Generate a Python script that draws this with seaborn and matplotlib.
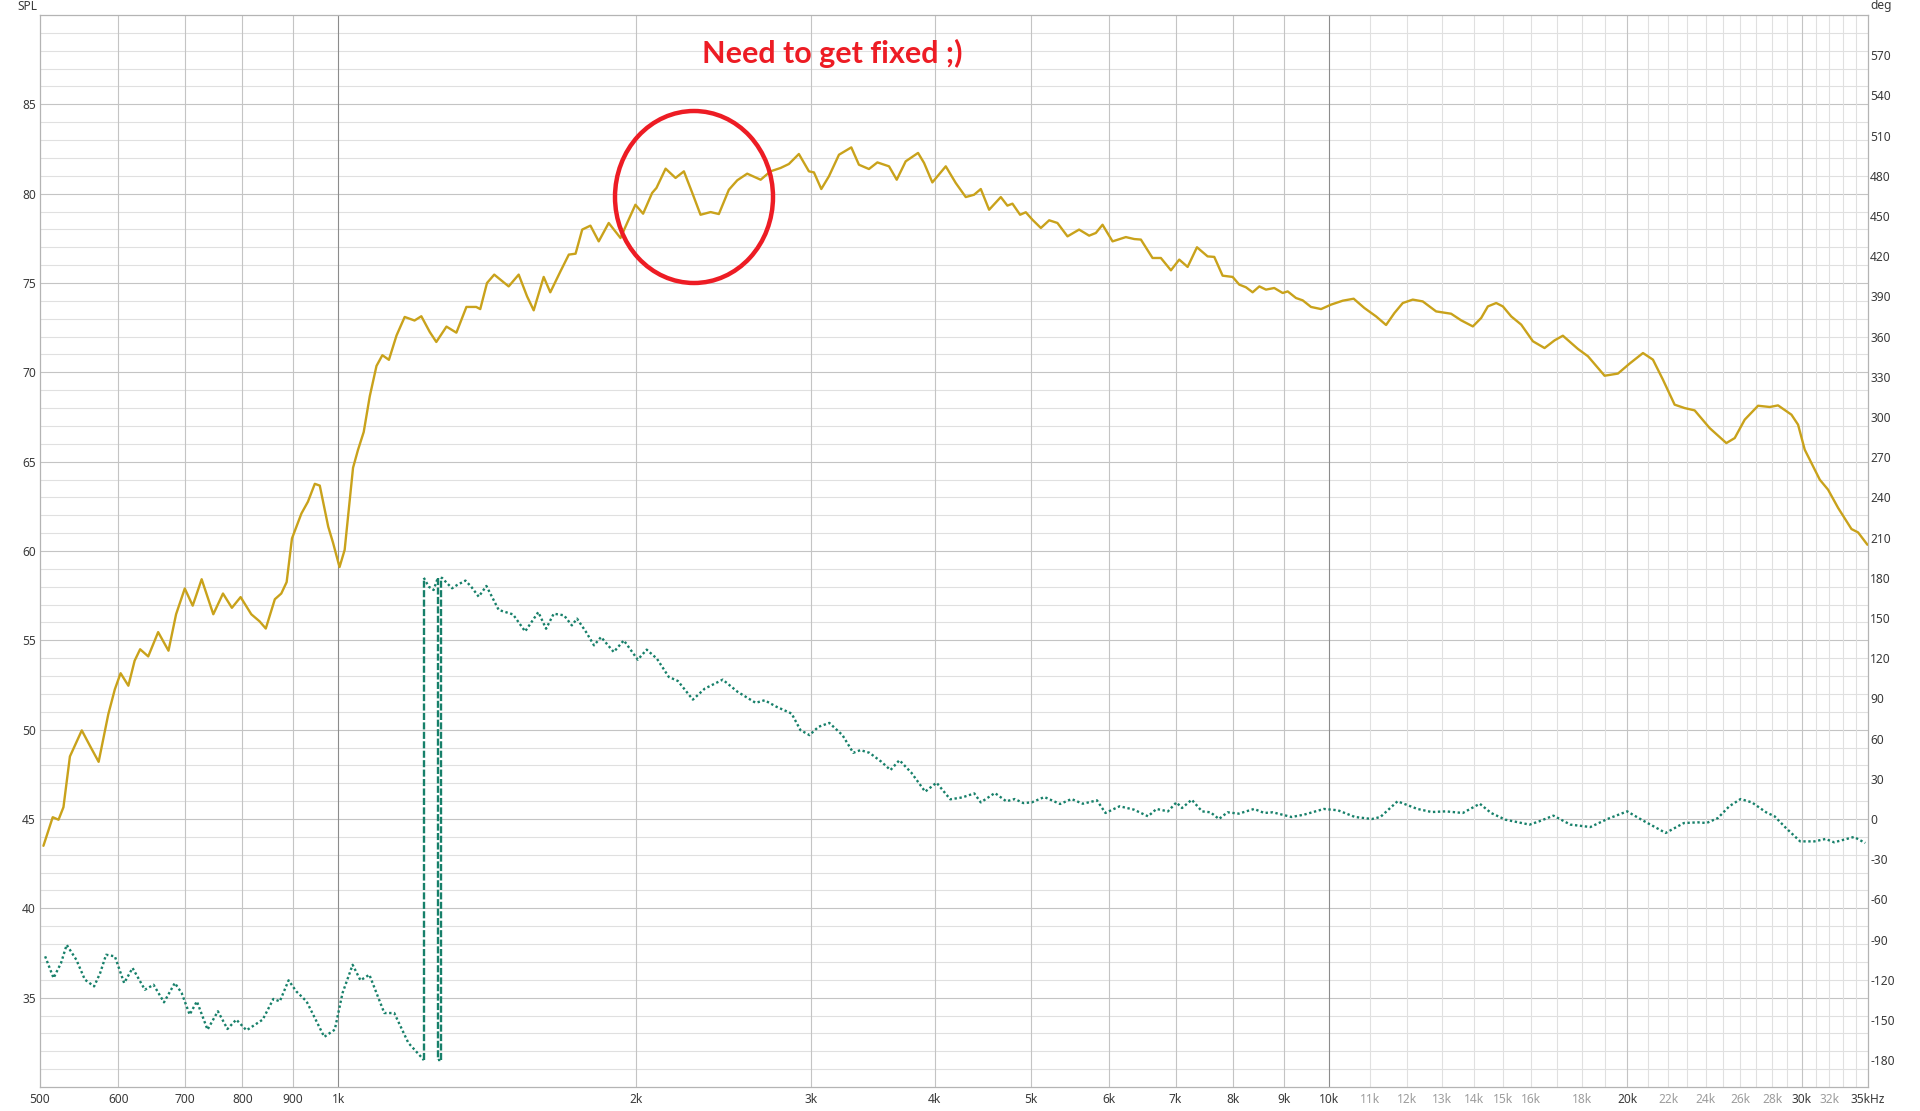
import numpy as np
import pandas as pd
import matplotlib
matplotlib.use("Agg")
import matplotlib.pyplot as plt
from matplotlib.patches import Ellipse
import seaborn as sns

# ---------------- data ----------------
spl_freq = [504, 515, 522, 528, 536, 551, 562, 573, 586, 595,
            603, 614, 623, 631, 643, 658, 674, 686, 700, 713,
            728, 748, 765, 781, 797, 817, 833, 845, 863, 876,
            887, 898, 918, 932, 947, 958, 977, 988, 1003, 1015,
            1035, 1047, 1061, 1076, 1093, 1108, 1125, 1145, 1167, 1194,
            1213, 1237, 1256, 1286, 1316, 1347, 1378,
            1391, 1413, 1437, 1486, 1521, 1551, 1575, 1612, 1637, 1676,
            1709, 1736, 1763, 1797, 1832, 1875, 1927, 1957, 1995, 2031,
            2074, 2095, 2140, 2190, 2233, 2277, 2321, 2376, 2422, 2479,
            2528, 2587, 2669, 2731, 2796, 2850, 2917, 2986, 3021, 3073,
            3128, 3202, 3295, 3354, 3433, 3501, 3597, 3662, 3739, 3848,
            3902, 3978, 4104, 4200, 4299, 4383, 4452,
            4539, 4664, 4736, 4792, 4878, 4943, 5020, 5119, 5219, 5320,
            5446, 5595, 5727, 5817, 5908, 6047, 6237, 6360, 6459, 6636,
            6766, 6926, 7061, 7200, 7358, 7542, 7660, 7810, 7994, 8118,
            8246, 8374, 8506, 8638, 8806, 8980, 9085, 9262, 9407, 9591,
            9818, 10049, 10326, 10591, 10858, 11157, 11419, 11643, 11871, 12150,
            12435, 12828, 13283,
            13596, 13971, 14243, 14467, 14750, 14980, 15274, 15633, 16062, 16504,
            16893, 17222, 17835, 18256, 18976, 19573, 20112, 20746, 21232, 21731,
            22330, 22856, 23394, 24224, 25182, 25675, 26280, 27107, 27854, 28398,
            29295, 29750, 30215, 30688, 31291, 31900, 32653, 33681, 34204, 34955]
spl_db = [43.5, 45.1, 44.96, 45.66, 48.5, 49.96, 49.06, 48.2, 50.86, 52.26,
          53.16, 52.46, 53.86, 54.5, 54.1, 55.46, 54.42, 56.46, 57.9, 56.94,
          58.42, 56.46, 57.62, 56.82, 57.42, 56.46, 56.06, 55.66, 57.3, 57.62,
          58.26, 60.7, 62.1, 62.76, 63.76, 63.66, 61.36, 60.46, 59.1, 60.06,
          64.66, 65.66, 66.66, 68.66, 70.36, 70.96, 70.7, 72.06, 73.1, 72.9,
          73.14, 72.26, 71.7, 72.56, 72.22, 73.66, 73.66,
          73.54, 75.0, 75.47, 74.81, 75.47, 74.25, 73.47, 75.34, 74.48, 75.65,
          76.59, 76.64, 77.99, 78.21, 77.33, 78.36, 77.52, 78.36, 79.38, 78.88,
          80.04, 80.32, 81.4, 80.88, 81.25, 80.04, 78.82, 78.97, 78.86, 80.22,
          80.75, 81.12, 80.78, 81.25, 81.44, 81.66, 82.22, 81.25, 81.19, 80.26,
          80.97, 82.18, 82.59, 81.62, 81.38, 81.75, 81.53, 80.78, 81.81, 82.28,
          81.72, 80.63, 81.53, 80.6, 79.81, 79.94, 80.26,
          79.1, 79.81, 79.33, 79.44, 78.82, 78.96, 78.54, 78.08, 78.51, 78.36,
          77.61, 77.99, 77.65, 77.8, 78.26, 77.33, 77.57, 77.46, 77.43, 76.4,
          76.4, 75.71, 76.31, 75.9, 77.0, 76.49, 76.46, 75.41, 75.34, 74.91,
          74.76, 74.48, 74.81, 74.63, 74.72, 74.44, 74.53, 74.16, 74.03, 73.66,
          73.54, 73.79, 74.01, 74.12, 73.6, 73.13, 72.65, 73.32, 73.88, 74.07,
          73.97, 73.41, 73.28,
          72.91, 72.57, 73.04, 73.69, 73.88, 73.69, 73.13, 72.67, 71.74, 71.36,
          71.79, 72.05, 71.31, 70.9, 69.81, 69.93, 70.49, 71.08, 70.71, 69.59,
          68.19, 68.0, 67.87, 66.88, 66.04, 66.32, 67.35, 68.13, 68.06, 68.15,
          67.63, 67.07, 65.67, 64.93, 63.99, 63.43, 62.41, 61.23, 61.04, 60.35]

phase_freq = [506, 516, 525, 532, 544, 555, 567, 575, 583, 595,
              608, 620, 638, 651, 667, 684, 695, 708, 720, 738,
              756, 773, 789, 808, 839, 860, 873, 891, 907, 929,
              968, 992, 1010, 1034, 1053, 1075, 1113, 1139, 1177, 1215,
              1220, 1220, 1234, 1248, 1260, 1262, 1262, 1269, 1269, 1273,
              1288, 1303, 1318, 1344, 1362, 1386, 1411, 1435, 1452, 1501,
              1544, 1592, 1621, 1650, 1690, 1721, 1742, 1779, 1812, 1842,
              1897, 1942, 2006, 2048, 2097, 2156, 2202, 2280, 2344, 2444,
              2530, 2638, 2694, 2770, 2868, 2928, 2990, 3053, 3131, 3228,
              3310, 3366, 3437, 3534, 3609, 3685, 3789, 3912, 4017, 4147,
              4264, 4385, 4452, 4600, 4724, 4818, 4914, 5012, 5160, 5353,
              5497, 5643, 5832, 5948, 6148, 6354, 6567, 6698, 6878, 7015,
              7107, 7269, 7444, 7593, 7744, 7899, 8109, 8402, 8604, 8775,
              9166, 9433, 9882, 10210, 10622, 11050, 11270, 11727, 12283, 12695,
              13119, 13648, 14198, 14575, 15066, 15940, 16304, 16848, 17528, 18358,
              19099, 19998, 20672, 21869, 22818, 23579, 24050, 24691, 25354, 26029,
              26722, 27619, 28171, 28922, 29894, 30898, 31717, 32352, 33878, 34778]
phase_deg = [-102.5, -118.7, -107.5, -93.9, -105.0, -119.9, -124.9, -115.0, -101.3, -102.5,
             -122.4, -111.2, -127.4, -123.7, -136.8, -122.4, -129.9, -146.0, -136.1, -157.2,
             -143.5, -156.7, -149.7, -157.7, -149.7, -134.3, -136.1, -120.4, -128.6, -136.1,
             -162.6, -157.2, -129.9, -108.8, -120.4, -116.2, -144.8, -144.8, -167.1, -178.3,
             -180, 180, 173.4, 170.9, 179.6, 180, -180, -180, 180, 179.9,
             175.9, 172.2, 174.6, 177.9, 173.4, 165.9, 173.9, 163.4, 156.0, 152.7,
             140.0, 154.4, 142.0, 153.2, 152.0, 144.5, 149.5, 139.5, 129.6, 135.8,
             124.6, 133.3, 118.9, 126.4, 119.7, 106.0, 103.0, 89.1, 97.3, 104.0,
             94.9, 86.7, 88.6, 83.7, 78.7, 66.3, 62.6, 68.8, 71.7, 62.6,
             49.4, 51.4, 49.4, 42.7, 36.5, 43.9, 34.5, 20.4, 27.1, 14.7,
             16.1, 19.1, 12.4, 19.4, 13.2, 14.9, 11.9, 12.4, 16.4, 11.2,
             14.9, 11.4, 13.9, 4.5, 9.5, 7.0, 2.0, 7.5, 5.7, 12.4,
             8.2, 14.4, 5.7, 5.0, 0.0, 5.0, 4.0, 7.5, 4.5, 5.0,
             1.5, 3.2, 7.5, 6.5, 1.5, 0.0, 1.5, 13.2, 7.5, 5.2,
             5.7, 4.5, 11.4, 4.5, -0.5, -4.2, -1.7, 2.5, -4.2, -6.0,
             0.0, 5.7, -0.5, -10.4, -3.0, -2.5, -3.0, 0.7, 9.5, 14.9,
             12.4, 5.0, 2.0, -6.7, -16.7, -16.7, -14.9, -17.4, -13.4, -17.9]

xtick_values = [500, 600, 700, 800, 900, 1000, 2000, 3000, 4000, 5000, 6000, 7000,
                8000, 9000, 10000, 11000, 12000, 13000, 14000, 15000, 16000, 18000,
                20000, 22000, 24000, 26000, 28000, 30000, 32000, 35000]
xtick_labels = ["500", "600", "700", "800", "900", "1k", "2k", "3k", "4k", "5k", "6k", "7k",
                "8k", "9k", "10k", "11k", "12k", "13k", "14k", "15k", "16k", "18k",
                "20k", "22k", "24k", "26k", "28k", "30k", "32k", "35kHz"]
xtick_dim = ["11k", "12k", "13k", "14k", "15k", "16k", "18k", "22k", "24k", "26k", "28k", "32k"]

spl_ticks = [35, 40, 45, 50, 55, 60, 65, 70, 75, 80, 85]
deg_ticks = [-180, -150, -120, -90, -60, -30, 0, 30, 60, 90, 120, 150, 180, 210, 240,
             270, 300, 330, 360, 390, 420, 450, 480, 510, 540, 570]

grid_dark = [1000, 10000]
grid_mid = [600, 700, 800, 900, 2000, 3000, 4000, 5000, 6000, 7000, 8000, 9000, 20000, 30000]
grid_light = [f * 1000 for f in range(11, 35) if f not in (20, 30)]

SPL_COLOR = "#c9a21b"
PHASE_COLOR = "#17806a"
RED = "#ed1c24"
TXT = "#3a3a3a"
DIM = "#9c9c9c"

# ---------------- style ----------------
sns.set_style("white")
plt.rcParams["font.family"] = ["Noto Sans", "DejaVu Sans"]

W, H = 1920, 1111
fig = plt.figure(figsize=(W / 100, H / 100), dpi=100)
fig.patch.set_facecolor("white")
ax = fig.add_axes([40 / W, 1 - 1087 / H, 1828 / W, 1072 / H])
ax.set_xscale("log")
ax.set_xlim(500, 35000)
ax.set_ylim(30, 90)

# grid
for v in range(31, 90):
    ax.axhline(v, color="#c4c4c4" if v % 5 == 0 else "#e0e0e0", lw=0.8, zorder=0)
for f in grid_light:
    ax.axvline(f, color="#e0e0e0", lw=0.8, zorder=0)
for f in grid_mid:
    ax.axvline(f, color="#c4c4c4", lw=0.8, zorder=0)
for f in grid_dark:
    ax.axvline(f, color="#8c8c8c", lw=0.8, zorder=0)

# SPL curve
spl_df = pd.DataFrame({"freq": spl_freq, "spl": spl_db})
sns.lineplot(data=spl_df, x="freq", y="spl", ax=ax, color=SPL_COLOR, lw=1.7,
             estimator=None, sort=False, zorder=3, solid_joinstyle="round",
             solid_capstyle="round")

# phase on twin axis
ax2 = ax.twinx()
ax2.set_ylim(-200, 600)
pf = np.array(phase_freq, dtype=float)
pd_ = np.array(phase_deg, dtype=float)
start = 0
segments = []
for i in range(len(pf) - 1):
    if abs(pd_[i + 1] - pd_[i]) > 300:
        segments.append(("curve", start, i + 1))
        segments.append(("jump", i, i + 2))
        start = i + 1
segments.append(("curve", start, len(pf)))
for kind, a, b in segments:
    seg = pd.DataFrame({"freq": pf[a:b], "deg": pd_[a:b]})
    if len(seg) < 2:
        continue
    if kind == "curve":
        ls = (0, (1.0, 1.1))
    else:
        ls = (0, (3.0, 1.0))
    sns.lineplot(data=seg, x="freq", y="deg", ax=ax2, color=PHASE_COLOR, lw=1.7,
                 linestyle=ls, estimator=None, sort=False, zorder=4)

# axes cosmetics
for a in (ax, ax2):
    a.set_xlabel("")
    a.set_ylabel("")
for s in ax.spines.values():
    s.set_color("#b4b4b4")
    s.set_linewidth(0.9)
for s in ax2.spines.values():
    s.set_visible(False)

LS = 8.6
ax.set_xticks(xtick_values)
ax.set_xticklabels(xtick_labels)
ax.xaxis.set_minor_locator(matplotlib.ticker.NullLocator())
for lbl in ax.get_xticklabels():
    lbl.set_color(DIM if lbl.get_text() in xtick_dim else TXT)
ax.set_yticks(spl_ticks)
ax.set_yticklabels([str(t) for t in spl_ticks])
ax.tick_params(axis="x", length=0, pad=4, labelsize=LS)
ax.tick_params(axis="y", length=0, pad=3, labelsize=LS, labelcolor=TXT)

ax2.set_yticks(deg_ticks)
ax2.set_yticklabels([str(t) for t in deg_ticks])
ax2.tick_params(axis="y", length=0, pad=1.5, labelsize=LS, labelcolor=TXT)

fig.text(37 / W, 1 - 6 / H, "SPL", ha="right", va="center", fontsize=LS, color=TXT)
fig.text(1870 / W, 1 - 6 / H, "deg", ha="left", va="center", fontsize=LS, color=TXT)

# annotation
fig.text(832 / W, 1 - 53 / H, "Need to get fixed ;)", color=RED, fontsize=22,
         fontweight="bold", ha="center", va="center", family=["Lato", "DejaVu Sans"])
fig.add_artist(Ellipse((694 / W, 1 - 197 / H), 158 / W, 172 / H, transform=fig.transFigure,
                       fill=False, edgecolor=RED, lw=3.2, zorder=10))

fig.savefig("out.png", dpi=100, facecolor="white")
